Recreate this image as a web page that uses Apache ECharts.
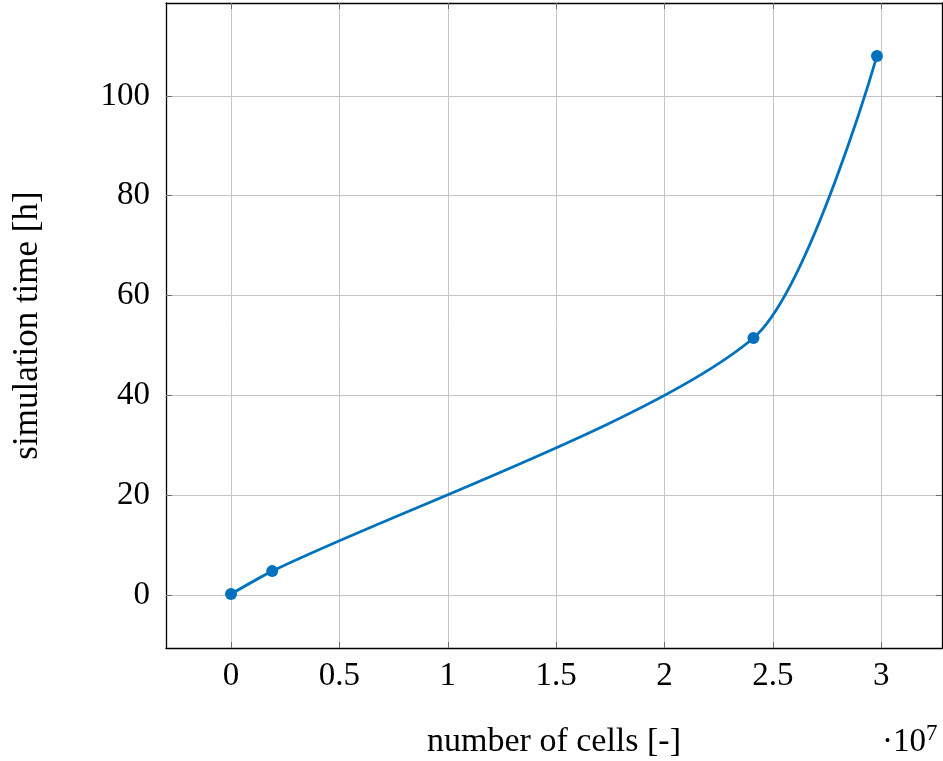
<!DOCTYPE html>
<html>
<head>
<meta charset="utf-8">
<script src="https://cdn.jsdelivr.net/npm/echarts@6/dist/echarts.min.js"></script>
<style>
html,body{margin:0;padding:0;background:#fff;}
#box{width:943px;height:761px;}
</style>
</head>
<body>
<div id="box"></div>
<script>
// number of cells vs simulation time
var cells = [0, 1900000, 24100000, 29800000];
var hours = [0.2, 4.8, 51.5, 108];
var xTicks = [0, 5000000, 10000000, 15000000, 20000000, 25000000, 30000000];
var yTicks = [0, 20, 40, 60, 80, 100];

var font = '"Liberation Serif", serif';
var data = [];
for (var i = 0; i < cells.length; i++) {
	data.push([cells[i], hours[i]]);
}

var myChart = echarts.init(document.getElementById('box'));
var tickStyle = {show: true, inside: true, length: 6, lineStyle: {color: '#6e6e6e', width: 1}};
var option = {
	animation: false,
	grid: {left: 166, right: 1, top: 3, bottom: 113, outerBoundsMode: 'none'},
	xAxis: [{
		type: 'value',
		min: -3000000,
		max: 32800000,
		name: 'number of cells [-]',
		nameLocation: 'middle',
		nameGap: 77,
		nameTextStyle: {fontFamily: font, fontSize: 34, color: '#000'},
		axisLine: {show: true, onZero: false, lineStyle: {color: '#000', width: 1.3}},
		axisTick: Object.assign({customValues: xTicks}, tickStyle),
		axisLabel: {
			customValues: xTicks,
			margin: 12,
			fontFamily: font, fontSize: 33, color: '#000',
			formatter: function (v) { return String(v / 10000000); }
		},
		splitLine: {show: true, lineStyle: {color: '#c4c4c4', width: 1}}
	}, {
		type: 'value',
		position: 'top',
		min: -3000000,
		max: 32800000,
		axisLine: {show: true, onZero: false, lineStyle: {color: '#000', width: 1.3}},
		axisTick: Object.assign({customValues: xTicks}, tickStyle),
		axisLabel: {show: false},
		splitLine: {show: false}
	}],
	yAxis: [{
		type: 'value',
		min: -10.6,
		max: 118.6,
		name: 'simulation time [h]',
		nameLocation: 'middle',
		nameGap: 121,
		nameTextStyle: {fontFamily: font, fontSize: 35, color: '#000'},
		axisLine: {show: true, onZero: false, lineStyle: {color: '#000', width: 1.3}},
		axisTick: Object.assign({customValues: yTicks}, tickStyle),
		axisLabel: {customValues: yTicks, margin: 16, fontFamily: font, fontSize: 33, color: '#000'},
		splitLine: {show: true, lineStyle: {color: '#c4c4c4', width: 1}}
	}, {
		type: 'value',
		position: 'right',
		min: -10.6,
		max: 118.6,
		axisLine: {show: true, onZero: false, lineStyle: {color: '#000', width: 1.3}},
		axisTick: Object.assign({customValues: yTicks}, tickStyle),
		axisLabel: {show: false},
		splitLine: {show: false}
	}],
	graphic: [{
		type: 'text',
		left: 882,
		top: 722,
		style: {
			text: '{a|·10}{b|7}',
			rich: {
				a: {fontFamily: font, fontSize: 33, fill: '#000', verticalAlign: 'bottom'},
				b: {fontFamily: font, fontSize: 23, fill: '#000', verticalAlign: 'top', padding: [0, 0, 14, 0]}
			}
		}
	}],
	series: [{
		type: 'line',
		data: data,
		smooth: 0.25,
		symbol: 'circle',
		symbolSize: 12,
		itemStyle: {color: '#0072bd'},
		lineStyle: {color: '#0072bd', width: 2.8}
	}]
};
myChart.setOption(option);
</script>
</body>
</html>
